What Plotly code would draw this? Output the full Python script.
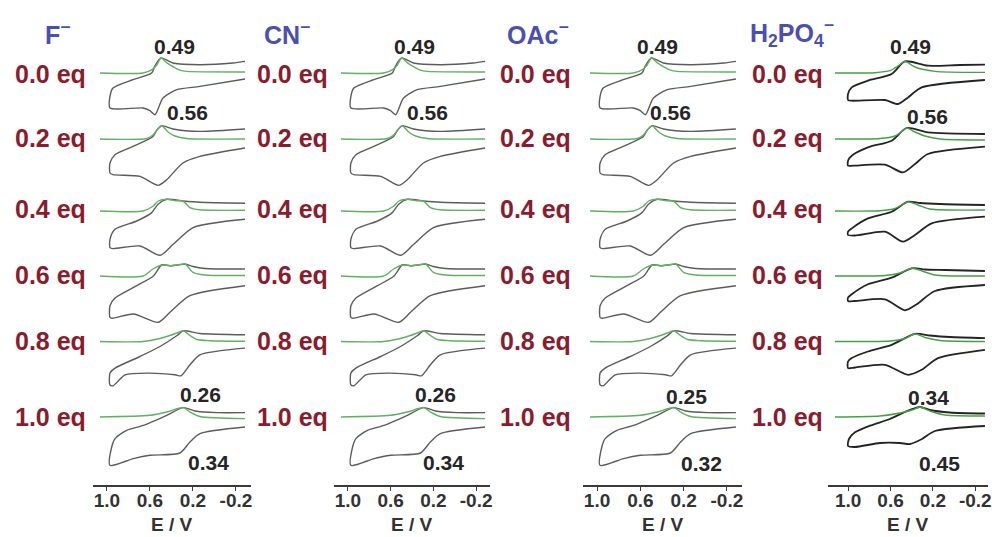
import plotly.graph_objects as go

W, H = 992, 537

# ---------------- data ----------------
E_TICKS = [1.0, 0.6, 0.2, -0.2]
E_TICK_TEXT = ["1.0", "0.6", "0.2", "-0.2"]
EQUIV = ["0.0 eq", "0.2 eq", "0.4 eq", "0.6 eq", "0.8 eq", "1.0 eq"]
ANIONS = ["F<sup>−</sup>", "CN<sup>−</sup>", "OAc<sup>−</sup>",
          "H<sub>2</sub>PO<sub>4</sub><sup>−</sup>"]
PEAK_LABELS = [["0.49", "0.56", "0.26", "0.34"],
               ["0.49", "0.56", "0.26", "0.34"],
               ["0.49", "0.56", "0.25", "0.32"],
               ["0.49", "0.56", "0.34", "0.45"]]

# F- : DPV (green) and CV (dark) traces, potential E (V) / current (a.u.)
F_DPV_E = [
    [1.065, 0.665, 0.581, 0.535, 0.497, 0.432, 0.321, 0.256, -0.284],
    [1.065, 0.630, 0.572, 0.535, 0.491, 0.432, 0.367, 0.256, -0.284],
    [1.065, 0.665, 0.572, 0.523, 0.444, 0.358, 0.293, 0.228, 0.135, -0.284],
    [1.065, 0.665, 0.572, 0.491, 0.414, 0.339, 0.274, 0.200, 0.088, -0.284],
    [1.065, 0.665, 0.507, 0.414, 0.339, 0.290, 0.228, 0.163, 0.042, -0.284],
    [1.065, 0.600, 0.444, 0.290, 0.228, 0.135, -0.284],
]
F_DPV_I = [
    [0, 0, 3.3, 8.3, 15, 9.3, 2.8, 1.6, 1.0],
    [0, 0.5, 4, 9, 13.3, 7, 3, 0.5, 0],
    [0, 0, 4.7, 10, 11.7, 10.2, 10, 3.4, 1.2, 0.7],
    [0, 0, 7, 11, 10.3, 11, 12, 3.7, 1, 0.5],
    [0, 0, 3, 6, 9, 10.7, 6, 2, 0.8, 0.3],
    [0, 1.7, 5, 9.4, 5, 0.5, -1.6],
]
F_CV_E = [
    [-0.284, -0.172, 0.135, 0.386, 0.497, 0.553, 0.584, 0.758, 0.944, 0.972, 0.972,
     0.665, 0.600, 0.553, 0.479, 0.351, 0.135, -0.284],
    [-0.284, 0.135, 0.386, 0.491, 0.535, 0.572, 0.758, 0.925, 0.972, 0.972, 0.944,
     0.693, 0.523, 0.444, 0.293, 0.135, -0.284],
    [-0.284, 0.135, 0.293, 0.444, 0.525, 0.584, 0.723, 0.925, 0.972, 0.972, 0.944,
     0.693, 0.507, 0.384, 0.198, -0.284],
    [-0.284, 0.088, 0.200, 0.274, 0.339, 0.414, 0.491, 0.568, 0.723, 0.925, 0.972,
     0.972, 0.953, 0.755, 0.523, 0.414, 0.228, -0.284],
    [-0.284, 0.135, 0.290, 0.351, 0.507, 0.693, 0.925, 0.972, 0.972, 0.944, 0.832,
     0.600, 0.367, 0.311, 0.228, 0.135, -0.284],
    [-0.284, -0.021, 0.181, 0.290, 0.444, 0.661, 0.816, 0.925, 0.956, 0.972, 0.755,
     0.600, 0.321, 0.228, 0.135, -0.284],
]
F_CV_I = [
    [11.6, 10, 8.3, 10, 15, 7.3, 0, -6.7, -15, -23.4, -35, -35, -37.7, -41.7, -25,
     -16.7, -13.4, -6],
    [10, 7.6, 10, 13.3, 9, 2.6, -7.4, -15.7, -24, -34, -35.7, -37.4, -46.4, -40.7,
     -24, -17.4, -9],
    [7.7, 8.7, 10, 11.7, 6.7, -1.6, -10, -18.3, -28.3, -36.6, -37.6, -35, -44.3,
     -33.3, -16.6, -8.3],
    [7, 7.5, 9.5, 12, 11, 10.3, 11, 0, -9.7, -22, -29.7, -41.3, -42.3, -38, -46.3,
     -36.3, -19.7, -9.7],
    [6.7, 8, 10.7, 5.7, -5, -15, -26.6, -31.6, -43.3, -44.3, -33.3, -31.6, -33.3,
     -34.3, -23.3, -13.3, -6.6],
    [4.4, 4.4, 6, 9.4, 1.7, -8.3, -13.3, -21.6, -30, -48.3, -41.6, -38.3, -36, -25,
     -16.6, -10],
]

# CN- and OAc- titrations are read as indistinguishable from F- at this resolution
CN_DPV_E, CN_DPV_I, CN_CV_E, CN_CV_I = F_DPV_E, F_DPV_I, F_CV_E, F_CV_I
OAC_DPV_E, OAC_DPV_I, OAC_CV_E, OAC_CV_I = F_DPV_E, F_DPV_I, F_CV_E, F_CV_I

# H2PO4-
P_DPV_E = [
    [1.124, 0.747, 0.605, 0.530, 0.464, 0.369, 0.181, -0.291],
    [1.124, 0.699, 0.558, 0.511, 0.448, 0.369, 0.275, 0.133, -0.291],
    [1.124, 0.699, 0.558, 0.492, 0.435, 0.341, 0.228, -0.291],
    [1.124, 0.652, 0.511, 0.400, 0.303, 0.181, -0.291],
    [1.124, 0.605, 0.464, 0.369, 0.275, 0.133, -0.291],
    [1.124, 0.699, 0.511, 0.397, 0.322, 0.228, 0.086, -0.291],
]
P_DPV_I = [
    [0, 0.3, 2.3, 7, 11.6, 6, 1.6, 0.6],
    [0, 0.5, 3, 6, 11, 7, 3, 0, -1],
    [0, 0.3, 2.5, 6, 9.3, 6, 2, 1],
    [0, 0.5, 3, 7.7, 5, 1, 0],
    [0, 0.5, 3, 7.7, 4, 1, 0],
    [0, 1, 4, 7, 10, 6, 2, 1],
]
P_CV_E = [
    [-0.291, -0.055, 0.247, 0.464, 0.589, 0.813, 0.966, 1.001, 1.001, 0.966, 0.652,
     0.530, 0.435, 0.306, -0.291],
    [-0.291, 0.247, 0.448, 0.589, 0.813, 0.966, 1.001, 1.001, 0.954, 0.652, 0.482,
     0.369, 0.247, -0.291],
    [-0.291, 0.133, 0.322, 0.435, 0.589, 0.813, 0.966, 1.001, 1.001, 0.935, 0.652,
     0.482, 0.369, 0.212, -0.291],
    [-0.291, 0.086, 0.275, 0.400, 0.589, 0.813, 0.966, 1.001, 1.001, 0.935, 0.652,
     0.464, 0.353, 0.181, -0.291],
    [-0.291, 0.039, 0.228, 0.369, 0.589, 0.813, 0.966, 1.001, 1.001, 0.935, 0.652,
     0.433, 0.306, 0.152, -0.291],
    [-0.291, 0.039, 0.228, 0.322, 0.464, 0.605, 0.794, 0.935, 0.992, 1.001, 0.935,
     0.699, 0.511, 0.416, 0.303, 0.181, -0.291],
]
P_CV_I = [
    [8.3, 8, 7.3, 11.6, -1, -7.7, -14.4, -21, -27, -27.7, -27, -31, -24.4, -14.4, -7],
    [5, 6.6, 11, -1.7, -8.4, -16.7, -21.7, -26.7, -26.7, -25.7, -33.4, -25, -15, -7.7],
    [6, 7, 8, 9.3, -0.7, -7.4, -17.4, -20.7, -24, -24.5, -20.7, -30.7, -24, -12.4,
     -5.7],
    [5, 6, 6.5, 7.7, -1.7, -8.3, -18.3, -21.7, -25, -25, -23.3, -34.3, -28.3, -15, -9],
    [3.4, 4.5, 6, 7.7, -3.3, -10, -16.6, -20, -26.6, -26, -23.3, -33.3, -28.3, -16.6,
     -8.3],
    [3.5, 4.5, 7, 10, 5, -2, -8.7, -15.3, -22, -29, -30, -26, -26, -27, -22, -14, -9],
]

PANELS = [
    (F_DPV_E, F_DPV_I, F_CV_E, F_CV_I),
    (CN_DPV_E, CN_DPV_I, CN_CV_E, CN_CV_I),
    (OAC_DPV_E, OAC_DPV_I, OAC_CV_E, OAC_CV_I),
    (P_DPV_E, P_DPV_I, P_CV_E, P_CV_I),
]

# ---------------- layout / style ----------------
PANEL_DOMAIN_PX = [(93, 251), (334, 490), (583, 742), (828, 988)]
PANEL_RANGE = [(1.13, -0.34), (1.13, -0.33), (1.13, -0.34), (1.19, -0.32)]
ROW_BASE_PX = [73, 139, 211, 276, 341.5, 417]
AXIS_Y_PX = 485
ROW_LABEL_X = [50, 292, 535, 787]
ROW_LABEL_Y = [74, 138, 209, 275, 341, 417]
HEADER_X = [43, 262, 505, 748]
HEADER_Y = 33
PEAK_POS = [
    [(174, 46), (187, 113), (200, 395), (208, 462)],
    [(414, 46), (427, 113), (435, 395), (443, 462)],
    [(657, 46), (670, 113), (686, 396), (701, 463)],
    [(910, 47), (927, 116), (928, 397), (939, 463)],
]
EV_Y = 524
CV_COLOR = ["#5c5c5c", "#5c5c5c", "#5c5c5c", "#242424"]
CV_WIDTH = [1.4, 1.4, 1.4, 1.8]
DPV_COLOR = ["#62b062", "#62b062", "#62b062", "#47a047"]
FONT = "Liberation Sans, Arial, sans-serif"

fig = go.Figure()

for p, (dE, dI, cE, cI) in enumerate(PANELS):
    xa = "x" if p == 0 else f"x{p + 1}"
    for r in range(6):
        base = -ROW_BASE_PX[r]
        fig.add_trace(go.Scatter(
            x=cE[r], y=[base + v for v in cI[r]], xaxis=xa, yaxis="y",
            mode="lines", line=dict(color=CV_COLOR[p], width=CV_WIDTH[p],
                                    shape="spline", smoothing=0.7),
            hoverinfo="skip", showlegend=False))
        fig.add_trace(go.Scatter(
            x=dE[r], y=[base + v for v in dI[r]], xaxis=xa, yaxis="y",
            mode="lines", line=dict(color=DPV_COLOR[p], width=1.4,
                                    shape="spline", smoothing=0.7),
            hoverinfo="skip", showlegend=False))

layout = dict(
    width=W, height=H,
    margin=dict(l=0, r=0, t=0, b=0, autoexpand=False),
    paper_bgcolor="white", plot_bgcolor="white",
    showlegend=False,
    yaxis=dict(domain=[(H - AXIS_Y_PX) / H, 1], range=[-AXIS_Y_PX, 0],
               visible=False, fixedrange=True),
)
for p in range(4):
    key = "xaxis" if p == 0 else f"xaxis{p + 1}"
    d0, d1 = PANEL_DOMAIN_PX[p]
    layout[key] = dict(
        domain=[d0 / W, d1 / W], range=list(PANEL_RANGE[p]), anchor="y",
        showline=True, linecolor="#3a3a3a", linewidth=1.6,
        ticks="outside", ticklen=4, tickcolor="#3a3a3a", tickwidth=1.4,
        tickvals=E_TICKS, ticktext=E_TICK_TEXT, automargin=False,
        ticklabelstandoff=-7,
        tickfont=dict(family=FONT, size=19, color="#333333", weight="bold"),
        showgrid=False, zeroline=False, fixedrange=True)
fig.update_layout(**layout)

ann = []


def label(text, xpx, ypx, size, color, bold=True, xanchor="center"):
    ann.append(dict(text=text, x=xpx / W, y=1 - ypx / H,
                    xref="paper", yref="paper", showarrow=False,
                    xanchor=xanchor, yanchor="middle",
                    font=dict(family=FONT, size=size, color=color,
                              weight="bold" if bold else "normal")))


for p in range(4):
    d0, d1 = PANEL_DOMAIN_PX[p]
    label("E / V", (d0 + d1) / 2, EV_Y, 19, "#333333")
    label(ANIONS[p], HEADER_X[p], HEADER_Y, 25, "#4b4fb3", xanchor="left")
    for r in range(6):
        label(EQUIV[r], ROW_LABEL_X[p], ROW_LABEL_Y[r], 25, "#8a1c2e")
    for k, txt in enumerate(PEAK_LABELS[p]):
        px, py = PEAK_POS[p][k]
        label(txt, px, py, 21, "#262626")
fig.update_layout(annotations=ann)

fig.write_html("out.html", config={"displayModeBar": False},
               post_script="document.body.style.margin='0px';"
                           "document.body.style.padding='0px';")
